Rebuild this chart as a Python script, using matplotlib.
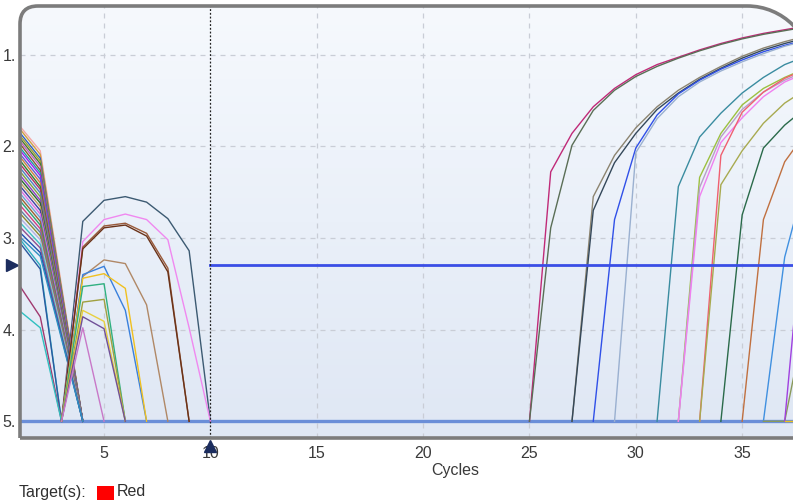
import numpy as np
import matplotlib
matplotlib.use("Agg")
import matplotlib.pyplot as plt
from matplotlib.path import Path
from matplotlib.patches import PathPatch, Rectangle
from matplotlib.transforms import IdentityTransform
from matplotlib.colors import LinearSegmentedColormap

plt.rcParams['font.family'] = ['Liberation Sans', 'DejaVu Sans']

# ---------------- data ----------------
x_ticks = [5, 10, 15, 20, 25, 30, 35]
y_ticks = [1, 2, 3, 4, 5]
y_tick_labels = ["1.", "2.", "3.", "4.", "5."]
floor_value = 5.0
threshold_value = 3.30
threshold_start = 10

# early "bundle" traces: values at cycles 1, 2, 3 (reach floor at cycle 4)
bundle_c1 = [1.77, 1.80, 1.84, 1.87, 1.90, 1.93, 1.96, 2.00, 2.03, 2.07, 2.10, 2.14,
             2.18, 2.22, 2.26, 2.30, 2.34, 2.38, 2.42, 2.46, 2.50, 2.54, 2.58, 2.63,
             2.68, 2.72, 2.77, 2.82, 2.87, 2.93, 2.98]
bundle_c2 = [2.05, 2.09, 2.13, 2.16, 2.19, 2.22, 2.26, 2.29, 2.32, 2.36, 2.40, 2.44,
             2.47, 2.51, 2.55, 2.59, 2.62, 2.66, 2.70, 2.74, 2.78, 2.82, 2.86, 2.90,
             2.94, 2.98, 3.02, 3.07, 3.11, 3.16, 3.20]
bundle_c3 = [3.52, 3.55, 3.57, 3.58, 3.60, 3.61, 3.63, 3.65, 3.66, 3.68, 3.70, 3.72,
             3.74, 3.76, 3.78, 3.80, 3.81, 3.83, 3.85, 3.87, 3.89, 3.91, 3.93, 3.95,
             3.97, 3.99, 4.01, 4.04, 4.06, 4.08, 4.10]
bundle_colors = ['#f4a8a8', '#d0a040', '#3060c0', '#a0a030', '#4a7a30', '#c060c0', '#8a5a30',
                 '#20a0a0', '#a020f0', '#6060d0', '#d08040', '#308030', '#b03060', '#5080c0',
                 '#80a040', '#9040c0', '#2a6a2a', '#c0a060', '#4040a0', '#e070e0', '#70a0d0',
                 '#a06030', '#30a070', '#d04080', '#6080a0', '#8a8a30', '#b0b0e0', '#40c0c0',
                 '#905090', '#2050b0', '#3090c0']

# traces that reach the floor at cycle 3: values at cycles 1, 2
early_c1 = [3.00, 3.04, 3.51, 3.79]
early_c2 = [3.30, 3.34, 3.86, 3.98]
early_colors = ['#30b0c0', '#2a5aa0', '#a03a70', '#30c0c0']

# hump traces, starting at cycle 3
hump_start = 3
hump_slate = [5, 2.82, 2.59, 2.55, 2.61, 2.79, 3.14, 5]
hump_pink = [5, 3.04, 2.80, 2.74, 2.80, 3.02, 3.98, 5]
hump_brown = [5, 3.10, 2.87, 2.84, 2.95, 3.33, 5]
hump_brown2 = [5, 3.12, 2.89, 2.86, 2.98, 3.37, 5]
hump_tan = [5, 3.42, 3.24, 3.28, 3.73, 5]
hump_blue = [5, 3.40, 3.31, 3.79, 5]
hump_gold = [5, 3.44, 3.39, 3.55, 5]
hump_green = [5, 3.53, 3.50, 5]
hump_olive = [5, 3.70, 3.67, 5]
hump_yellow = [5, 3.79, 3.91, 5]
hump_purple = [5, 3.86, 3.99, 5]
hump_mauve = [5, 3.98, 5]

# amplification traces: (start cycle, values from that cycle on)
amp_magenta = (25, [5, 2.28, 1.86, 1.57, 1.37, 1.22, 1.11, 1.03, 0.95, 0.88, 0.82, 0.77, 0.73, 0.69])
amp_graygreen = (25, [5, 2.89, 1.99, 1.61, 1.39, 1.24, 1.13, 1.04, 0.96, 0.89, 0.83, 0.78, 0.74, 0.70])
amp_khaki = (27, [5, 2.55, 2.10, 1.80, 1.57, 1.39, 1.25, 1.13, 1.02, 0.93, 0.86, 0.80])
amp_slate = (27, [5, 2.70, 2.18, 1.86, 1.60, 1.42, 1.27, 1.15, 1.04, 0.95, 0.88, 0.82])
amp_blue = (28, [5, 2.80, 2.02, 1.66, 1.43, 1.28, 1.16, 1.06, 0.97, 0.90, 0.84])
amp_ltblue = (29, [5, 2.07, 1.70, 1.46, 1.30, 1.18, 1.08, 0.99, 0.91, 0.85])
amp_teal = (31, [5, 2.44, 1.90, 1.64, 1.42, 1.25, 1.11, 1.02])
amp_lime = (32, [5, 2.34, 1.86, 1.55, 1.37, 1.25, 1.15])
amp_lavender = (32, [5, 2.45, 1.90, 1.60, 1.41, 1.28, 1.18])
amp_pink = (32, [5, 2.55, 1.96, 1.69, 1.46, 1.30, 1.20])
amp_salmon = (33, [5, 2.10, 1.63, 1.41, 1.26, 1.16])
amp_olive = (33, [5, 2.42, 2.05, 1.75, 1.53, 1.38])
amp_dkgreen = (34, [5, 2.75, 2.02, 1.77, 1.58])
amp_brown = (35, [5, 2.80, 2.17, 1.85])
amp_blue2 = (36, [5, 3.21, 2.34])
amp_olive2 = (36, [5, 5, 3.85])
amp_purple = (37, [5, 2.50])
amp_yellow = (37, [5, 5])

# ---------------- figure ----------------
W, H = 793, 504
fig = plt.figure(figsize=(W / 100, H / 100), dpi=100)
fig.patch.set_facecolor('white')

L, T, B = 20, 6, 438
ax = fig.add_axes([L / W, 1 - B / H, 1 - L / W, (B - T) / H])
ax.set_facecolor('none')
for s in ax.spines.values():
    s.set_visible(False)

px_per_cycle = 21.27
x0_px = -2.3
xlim = ((L - x0_px) / px_per_cycle, (W - x0_px) / px_per_cycle)
py1, px_per_unit = 54.5, 91.7
ylim = (1 + (B - py1) / px_per_unit, 1 + (T - py1) / px_per_unit)

# frame path (display coords) with rounded top corners
yt, yb = H - T, H - B
r1 = 18
R = 65
cx = 747
cy = yt - R
k = 0.5523 * R
verts = [(L, yb), (L, yt - r1), (L, yt), (L + r1, yt), (cx, yt),
         (cx + k, yt), (cx + R, cy + k), (cx + R, cy), (cx + R, yb), (L, yb)]
codes = [Path.MOVETO, Path.LINETO, Path.CURVE3, Path.CURVE3, Path.LINETO,
         Path.CURVE4, Path.CURVE4, Path.CURVE4, Path.LINETO, Path.CLOSEPOLY]
frame_path = Path(verts, codes)
clip_patch = PathPatch(frame_path, transform=IdentityTransform(), facecolor='none', edgecolor='none')

# gradient background (light at top, bluish at bottom)
grad = np.linspace(0, 1, 256).reshape(-1, 1)
cmap = LinearSegmentedColormap.from_list('bg', ['#f6f9fd', '#eaf0f9', '#dfe7f4'])
im = ax.imshow(grad, extent=[0, 1, 0, 1], origin='upper', transform=ax.transAxes,
               aspect='auto', cmap=cmap, zorder=0, interpolation='bilinear')
im.set_clip_path(clip_patch)

# grid
grid_kw = dict(color='#c9cdd6', lw=0.9, dashes=(4, 4), zorder=1)
for xv in x_ticks:
    if xv != threshold_start:
        ax.axvline(xv, **grid_kw)
for yv in y_ticks[:-1]:
    ax.axhline(yv, **grid_kw)

lw = 1.0
# bundle
for c1, c2, c3, col in zip(bundle_c1, bundle_c2, bundle_c3, bundle_colors):
    ax.plot([1, 2, 3, 4], [c1, c2, c3, floor_value], color=col, lw=lw, zorder=3)
for c1, c2, col in zip(early_c1, early_c2, early_colors):
    ax.plot([1, 2, 3], [c1, c2, floor_value], color=col, lw=lw, zorder=3)

humps = [(hump_slate, '#3c5a72'), (hump_pink, '#f088f0'), (hump_brown, '#9a5a3a'),
         (hump_brown2, '#6a3218'), (hump_tan, '#b08866'), (hump_blue, '#3a80dc'),
         (hump_gold, '#f0c020'), (hump_green, '#30b080'), (hump_olive, '#a0a040'),
         (hump_yellow, '#e8d040'), (hump_purple, '#705098'), (hump_mauve, '#c878c8')]
for vals, col in humps:
    ax.plot(np.arange(hump_start, hump_start + len(vals)), vals, color=col, lw=lw, zorder=3)

amps = [(amp_magenta, '#c02a78'), (amp_graygreen, '#5a6e56'), (amp_khaki, '#8c8470'),
        (amp_slate, '#34485a'), (amp_blue, '#3050e8'), (amp_ltblue, '#9ab0d0'),
        (amp_teal, '#3a8ca0'), (amp_lime, '#9cc040'), (amp_lavender, '#b8a0c8'),
        (amp_pink, '#f080f0'), (amp_salmon, '#f06070'), (amp_olive, '#a8aa50'),
        (amp_dkgreen, '#2a6a4a'), (amp_brown, '#c07040'), (amp_blue2, '#4090e0'),
        (amp_olive2, '#8a9a5a'), (amp_purple, '#a040e0'), (amp_yellow, '#e8c020')]
for (start, vals), col in amps:
    ax.plot(np.arange(start, start + len(vals)), vals, color=col, lw=lw, zorder=3)

# floor line
ax.axhline(floor_value, color='#6a8ed8', lw=2.4, zorder=2.5)
# threshold line
ax.plot([threshold_start, xlim[1] + 1], [threshold_value, threshold_value],
        color='#3a4ee6', lw=2.0, zorder=4)
# start-cycle dotted line
ax.axvline(threshold_start, color='#202020', lw=0.9, ls=(0, (1.5, 1.5)), zorder=4)

ax.set_xlim(*xlim)
ax.set_ylim(*ylim)

ax.set_xticks(x_ticks)
ax.set_xticklabels([str(v) for v in x_ticks])
ax.set_yticks(y_ticks)
ax.set_yticklabels(y_tick_labels)
ax.tick_params(axis='x', length=0, pad=6.0, labelsize=11.5, labelcolor='#3a3a3a')
ax.tick_params(axis='y', length=0, pad=3.0, labelsize=11.5, labelcolor='#3a3a3a')

# frame outline
outline = PathPatch(frame_path, transform=IdentityTransform(), facecolor='none',
                    edgecolor='#7c7c7c', lw=2.6, zorder=10)
fig.add_artist(outline)

# markers
ax.plot([threshold_start], [1 + (446 - py1) / px_per_unit], marker='^', ms=9,
        color='#1c2d5e', clip_on=False, zorder=11)
ax.plot([(12 - x0_px) / px_per_cycle], [threshold_value], marker='>', ms=8,
        color='#1c2d5e', clip_on=False, zorder=11)

# labels
fig.text(455 / W, 1 - 470 / H, 'Cycles', ha='center', va='center', fontsize=11.5, color='#3a3a3a')
fig.text(19 / W, 1 - 492 / H, 'Target(s):', ha='left', va='center', fontsize=11.5, color='#303030')
fig.add_artist(Rectangle((97 / W, 1 - 500 / H), 17 / W, 14 / H, transform=fig.transFigure,
                         facecolor='#ff0000', edgecolor='none'))
fig.text(117 / W, 1 - 492 / H, 'Red', ha='left', va='center', fontsize=11.5, color='#303030')

fig.savefig('out.png', dpi=100)
